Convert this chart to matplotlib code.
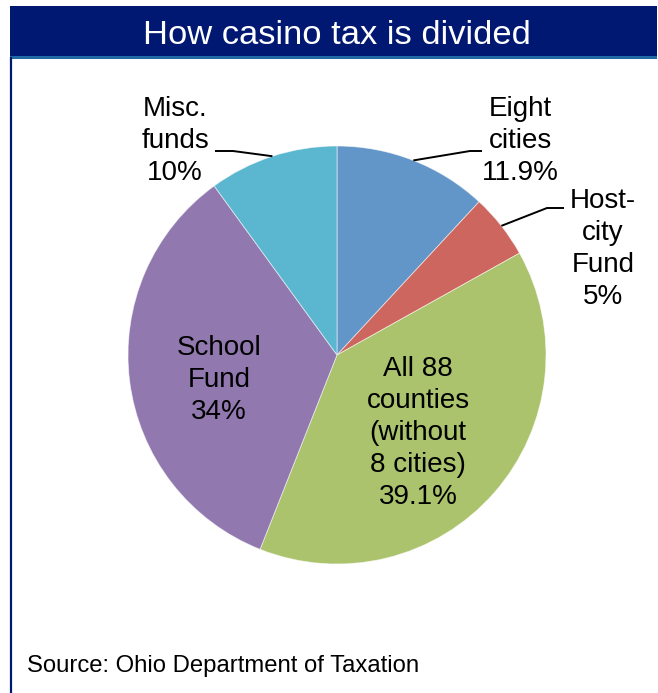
import numpy as np
import matplotlib
matplotlib.use("Agg")
import matplotlib.pyplot as plt
from matplotlib.patches import Rectangle
from matplotlib.lines import Line2D

plt.rcParams['font.family'] = ['Liberation Sans', 'DejaVu Sans']

# data, clockwise from 12 o'clock
labels = ["Eight\ncities", "Host-\ncity\nFund", "All 88\ncounties\n(without\n8 cities)",
          "School\nFund", "Misc.\nfunds"]
shares = [11.9, 5.0, 39.1, 34.0, 10.0]
pct_text = ["11.9%", "5%", "39.1%", "34%", "10%"]
colors = ["#6396C8", "#CD665E", "#AAC36C", "#9179B0", "#5BB7CF"]

W, H = 658, 693
fig = plt.figure(figsize=(W / 100, H / 100), dpi=100)

def fx(px):
    return px / W

def fy(py):
    # py measured from top
    return 1 - py / H

# title bar + frame
fig.patches.append(Rectangle((fx(10), fy(56)), fx(647), 50 / H, transform=fig.transFigure,
                             facecolor="#001871", edgecolor="none", zorder=0))
fig.patches.append(Rectangle((fx(10), fy(58.5)), fx(647), 2.5 / H, transform=fig.transFigure,
                             facecolor="#1F6AA5", edgecolor="none", zorder=0))
fig.lines.append(Line2D([fx(11), fx(11)], [fy(58), 0], transform=fig.transFigure,
                        color="#001871", linewidth=1.6))
fig.text(fx(337), fy(35), "How casino tax is divided", color="white", fontsize=24.8,
         ha="center", va="center")
fig.text(fx(27), fy(672), "Source: Ohio Department of Taxation", fontsize=17.2,
         ha="left", va="baseline")

# pie: center (337, 355) px, radius 209 px
cx, cy, r = 337, 355, 209
ax = fig.add_axes([fx(cx - r), fy(cy + r), 2 * r / W, 2 * r / H])
wedges, _ = ax.pie(shares, colors=colors, startangle=90, counterclock=False, radius=1,
                   wedgeprops=dict(edgecolor=(1, 1, 1, 0.6), linewidth=0.6))
ax.set_xlim(-1, 1)
ax.set_ylim(-1, 1)
ax.set_aspect("auto")
ax.axis("off")

def to_data(px, py):
    return (px - cx) / r, (cy - py) / r

# label centres (px) and leader elbows/ends (px); None means label inside slice
label_pos = [(520, 141), (603, 249), (418, 433), (219, 380), (175, 141)]
leaders = [((470, 151), (482, 151)), ((547, 208), (564, 208)), None, None,
           ((233, 151), (215, 151))]

for w, lab, pct, pos, ld in zip(wedges, labels, pct_text, label_pos, leaders):
    tx, ty = to_data(*pos)
    ax.text(tx, ty, lab + "\n" + pct, fontsize=20, ha="center", va="center",
            linespacing=1.31, clip_on=False)
    if ld is not None:
        mid = np.deg2rad((w.theta1 + w.theta2) / 2)
        ex, ey = np.cos(mid), np.sin(mid)
        (bx, by), (kx, ky) = to_data(*ld[0]), to_data(*ld[1])
        ax.plot([ex, bx, kx], [ey, by, ky], color="black", linewidth=1.4,
                clip_on=False, solid_capstyle="butt")

fig.savefig("out.png", dpi=100)
